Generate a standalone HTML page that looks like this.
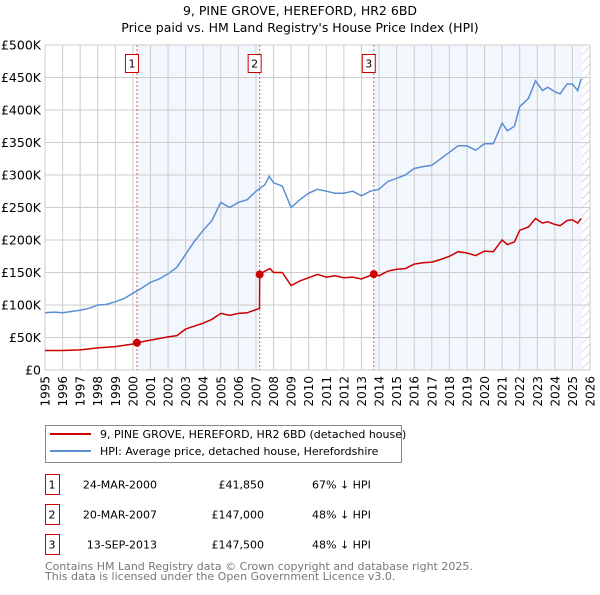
<!DOCTYPE html>
<html><head><meta charset="utf-8"><style>
body{margin:0;background:#fff;font-family:"Liberation Sans","DejaVu Sans",sans-serif;}
svg text{font-family:"DejaVu Sans","Liberation Sans",sans-serif;}
</style></head><body>
<svg id="c" width="600" height="590" xmlns="http://www.w3.org/2000/svg">
<defs><pattern id="hatch" width="6" height="6" patternUnits="userSpaceOnUse" patternTransform="rotate(45)"><line x1="0" y1="0" x2="0" y2="6" stroke="#bbb" stroke-width="1"/></pattern></defs>
<text x="300" y="15" text-anchor="middle" font-size="12.5">9, PINE GROVE, HEREFORD, HR2 6BD</text>
<text x="300" y="32" text-anchor="middle" font-size="12.5">Price paid vs. HM Land Registry's House Price Index (HPI)</text>
<g id="plot"></g>
<g>
<rect x="45.5" y="425.5" width="356" height="37" fill="#fff" stroke="#888"/>
<line x1="50" y1="434" x2="91" y2="434" stroke="#cc0000" stroke-width="2"/>
<text x="100" y="438" font-size="11">9, PINE GROVE, HEREFORD, HR2 6BD (detached house)</text>
<line x1="50" y1="451" x2="91" y2="451" stroke="#5b8fd4" stroke-width="2"/>
<text x="100" y="455" font-size="11">HPI: Average price, detached house, Herefordshire</text>
</g>
<g id="table" font-size="11"></g>
<text x="45" y="570" font-size="11" fill="#777">Contains HM Land Registry data © Crown copyright and database right 2025.</text>
<text x="45" y="580" font-size="11" fill="#777">This data is licensed under the Open Government Licence v3.0.</text>
</svg>
<script>
const hpiYears=[1995,1995.5,1996,1996.5,1997,1997.5,1998,1998.5,1999,1999.5,2000,2000.5,2001,2001.5,2002,2002.5,2003,2003.5,2004,2004.5,2005,2005.5,2006,2006.5,2007,2007.5,2007.75,2008,2008.5,2009,2009.5,2010,2010.5,2011,2011.5,2012,2012.5,2013,2013.5,2014,2014.5,2015,2015.5,2016,2016.5,2017,2017.5,2018,2018.5,2019,2019.5,2020,2020.5,2021,2021.3,2021.7,2022,2022.5,2022.9,2023.3,2023.6,2024,2024.3,2024.7,2025,2025.3,2025.5];
const hpiValues=[88,89,88,90,92,95,100,101,105,110,118,126,135,140,148,158,178,198,215,230,258,250,258,262,275,285,298,288,283,250,262,272,278,275,272,272,275,268,275,278,290,295,300,310,313,315,325,335,345,345,338,348,348,380,368,375,405,418,445,430,435,428,425,440,440,430,448];
const propYears=[1995,1996,1997,1998,1999,2000,2000.23,2001,2002,2002.5,2003,2004,2004.5,2005,2005.5,2006,2006.5,2007,2007.2,2007.21,2007.5,2007.8,2008,2008.5,2009,2009.5,2010,2010.5,2011,2011.5,2012,2012.5,2013,2013.7,2014,2014.5,2015,2015.5,2016,2016.5,2017,2017.5,2018,2018.5,2019,2019.5,2020,2020.5,2021,2021.3,2021.7,2022,2022.5,2022.9,2023.3,2023.6,2024,2024.3,2024.7,2025,2025.3,2025.5];
const propValues=[30,30,31,34,36,40,41.85,46,51,53,63,72,78,87,84,87,88,93,95,147,152,156,150,150,130,137,142,147,143,145,142,143,140,147.5,145,152,155,156,163,165,166,170,175,182,180,176,183,182,200,193,197,215,220,233,226,228,224,222,230,231,226,233];
const saleYears=[2000.23,2007.21,2013.70];
const saleValues=[41.85,147,147.5];
const saleLabels=["1","2","3"];
const saleDates=["24-MAR-2000","20-MAR-2007","13-SEP-2013"];
const salePrices=["£41,850","£147,000","£147,500"];
const saleDiffs=["67% ↓ HPI","48% ↓ HPI","48% ↓ HPI"];
const yTicks=[0,50,100,150,200,250,300,350,400,450,500];
const yTickLabels=["£0","£50K","£100K","£150K","£200K","£250K","£300K","£350K","£400K","£450K","£500K"];
const xTicks=[];for(let y=1995;y<=2026;y++)xTicks.push(y);
const dataEnd=2025.55;

const L=45,R=590,T=45,B=370;
const xs=y=>L+(y-1995)/(2026-1995)*(R-L);
const ys=v=>B-v/500*(B-T);
const NS="http://www.w3.org/2000/svg";
const g=document.getElementById('plot');
function el(t,a,p){const e=document.createElementNS(NS,t);for(const k in a)e.setAttribute(k,a[k]);(p||g).appendChild(e);return e;}

let r=el('rect',{x:xs(saleYears[0]),y:T,width:xs(saleYears[1])-xs(saleYears[0]),height:B-T,fill:'#eef3fc',opacity:0.75});


r=el('rect',{x:xs(saleYears[2]),y:T,width:xs(dataEnd)-xs(saleYears[2]),height:B-T,fill:'#eef3fc',opacity:0.75});


r=el('rect',{x:xs(dataEnd),y:T,width:R-xs(dataEnd),height:B-T,fill:'url(#hatch)'});



xTicks.forEach(y=>{
 const x=xs(y);
 const l=el('line',{x1:x,y1:T,x2:x,y2:B,stroke:'#ccc','stroke-width':1});
 
 
 const t=el('text',{x:0,y:0,'font-size':12,'text-anchor':'end',transform:`translate(${x+4.5},${B+6}) rotate(-90)`});
 t.textContent=y;
 
 
});
yTicks.forEach((v,i)=>{
 const y=ys(v);
 const l=el('line',{x1:L,y1:y,x2:R,y2:y,stroke:'#ccc','stroke-width':1});
 
 
 const t=el('text',{x:L-4,y:y+4.5,'font-size':12.5,'text-anchor':'end'});
 t.textContent=yTickLabels[i];
 
 
});
const ax=el('rect',{x:L,y:T,width:R-L,height:B-T,fill:'none',stroke:'#ccc'});



saleYears.forEach((yy,i)=>{
 const x=xs(yy);
 const l=el('line',{x1:x,y1:T,x2:x,y2:B,stroke:'#e06060','stroke-dasharray':'2,2','stroke-width':1});
 
 
 const b=el('rect',{x:x-11.5,y:54.5,width:13,height:18,fill:'#fff',stroke:'#cc0000'});
 
 
 const t=el('text',{x:x-5,y:67.5,'font-size':11,'text-anchor':'middle'});
 t.textContent=saleLabels[i];
 
 
});

const hp=el('path',{d:hpiYears.map((y,i)=>(i?'L':'M')+xs(y).toFixed(1)+','+ys(hpiValues[i]).toFixed(1)).join(''),fill:'none',stroke:'#5b8fd4','stroke-width':1.5});


const pp=el('path',{d:propYears.map((y,i)=>(i?'L':'M')+xs(y).toFixed(1)+','+ys(propValues[i]).toFixed(1)).join(''),fill:'none',stroke:'#cc0000','stroke-width':1.5});


saleYears.forEach((yy,i)=>{
 const c=el('circle',{cx:xs(yy),cy:ys(saleValues[i]),r:4,fill:'#cc0000'});
 
 
});

const tb=document.getElementById('table');
saleYears.forEach((yy,i)=>{
 const cy=483+i*30;
 const b=el('rect',{x:45.5,y:cy-8.5,width:14,height:20,fill:'#fff',stroke:'#cc0000'},tb);
 
 
 const cols=[[52,saleLabels[i],'middle'],[157,saleDates[i],'end'],[264,salePrices[i],'end'],[312,saleDiffs[i],'start']];
 cols.forEach(([x,s,a],j)=>{
  const t=el('text',{x:x,y:cy+5.5,'text-anchor':a},tb);
  t.textContent=s;
  
  
 });
});
</script>
</body></html>
